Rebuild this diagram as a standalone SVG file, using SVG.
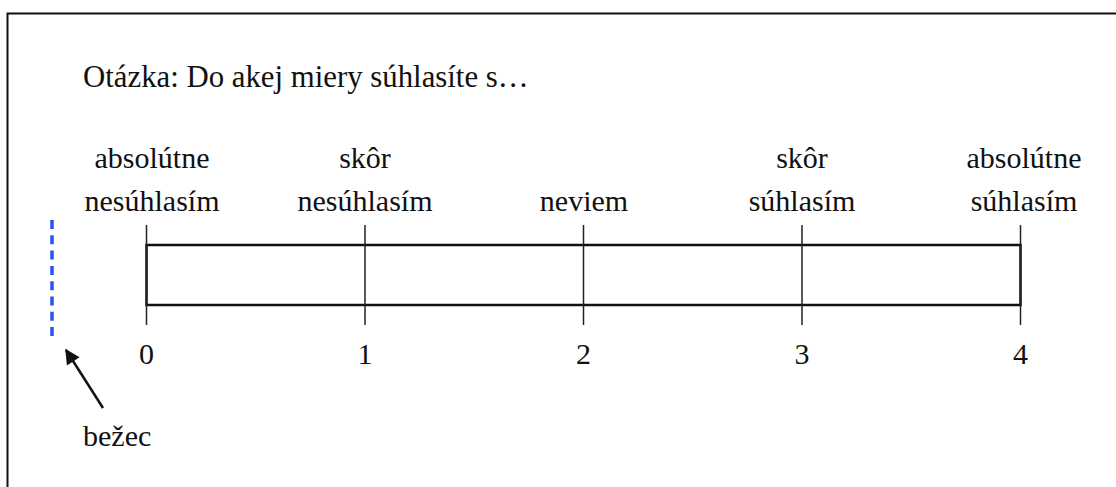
<svg xmlns="http://www.w3.org/2000/svg" width="1116" height="487" viewBox="0 0 1116 487">
  <defs>
    <style>
      .t { font-family: "Liberation Serif", "Times New Roman", serif; font-size: 30px; fill: #111; }
      .q { font-size: 30.8px; }
      .c { text-anchor: middle; }
      .tick { stroke: #222; stroke-width: 1.5; }
    </style>
    <marker id="head" viewBox="0 0 10 10" refX="9" refY="5" markerWidth="6.5" markerHeight="6" orient="auto" markerUnits="strokeWidth">
      <path d="M0,0 L10,5 L0,10 Z" fill="#111"/>
    </marker>
  </defs>

  <rect width="1116" height="487" fill="#fff"/>
  <!-- outer frame -->
  <rect x="7.5" y="13.5" width="1130" height="500" fill="none" stroke="#111" stroke-width="2"/>

  <!-- question -->
  <text class="t q" x="83" y="87">Otázka: Do akej miery súhlasíte s…</text>

  <!-- scale bar -->
  <g id="scale">
    <rect x="146.5" y="245" width="874" height="60" fill="none" stroke="#111" stroke-width="2.5"/>
    <line class="tick" x1="146.5" y1="225" x2="146.5" y2="325"/>
    <line class="tick" x1="365" y1="225" x2="365" y2="325"/>
    <line class="tick" x1="583.5" y1="225" x2="583.5" y2="325"/>
    <line class="tick" x1="802" y1="225" x2="802" y2="325"/>
    <line class="tick" x1="1020.5" y1="225" x2="1020.5" y2="325"/>
  </g>

  <!-- category labels -->
  <g id="labels">
    <text class="t c" x="152" y="168">absolútne</text>
    <text class="t c" x="152" y="211">nesúhlasím</text>
    <text class="t c" x="365" y="168">skôr</text>
    <text class="t c" x="365" y="211">nesúhlasím</text>
    <text class="t c" x="584" y="211">neviem</text>
    <text class="t c" x="802" y="168">skôr</text>
    <text class="t c" x="802" y="211">súhlasím</text>
    <text class="t c" x="1024" y="168">absolútne</text>
    <text class="t c" x="1024" y="211">súhlasím</text>
  </g>

  <!-- numeric values -->
  <g id="values">
    <text class="t c" x="146.5" y="364">0</text>
    <text class="t c" x="365" y="364">1</text>
    <text class="t c" x="583.5" y="364">2</text>
    <text class="t c" x="802" y="364">3</text>
    <text class="t c" x="1020.5" y="364">4</text>
  </g>

  <!-- slider -->
  <g id="slider">
    <line x1="52" y1="220" x2="52" y2="336" stroke="#2b50f5" stroke-width="3.5" stroke-dasharray="9 6.3"/>
  </g>

  <g id="connectors">
    <line x1="103" y1="408" x2="66" y2="350" stroke="#111" stroke-width="2.5" marker-end="url(#head)"/>
  </g>

  <g id="slider-label">
    <text class="t" x="83" y="446">bežec</text>
  </g>
</svg>
